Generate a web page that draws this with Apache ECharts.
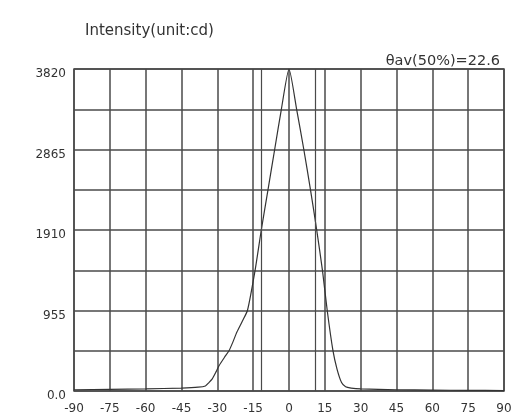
<!DOCTYPE html>
<html>
<head>
<meta charset="utf-8">
<script src="https://cdn.jsdelivr.net/npm/echarts@6/dist/echarts.min.js"></script>
<style>
  html, body { margin: 0; padding: 0; background: #fff; }
  #main { width: 525px; height: 415px; }
</style>
</head>
<body>
<div id="main"></div>
<script>
// angle (deg) and luminous intensity (cd)
const angles = [-90, -75, -60, -45, -38, -35, -33.5, -32.2, -30.5, -29.3, -27, -25.1, -23.5, -21.8, -19.5, -17.4, -14.2, -11.6, -8.8, -6.0, -3.2, 0,
  3.2, 6.2, 9.0, 11.6, 14.0, 16.0, 18.4, 20.1, 22.0, 23.7, 26, 30, 45, 60, 75, 90]
const intensity = [15, 20, 25, 35, 45, 60, 100, 140, 230, 300, 400, 478, 580, 700, 830, 955, 1432, 1910, 2387, 2865, 3342, 3820,
  3342, 2865, 2387, 1910, 1432, 955, 478, 260, 100, 50, 35, 25, 15, 10, 8, 5]
const halfAngles = [-11.5, 11.1]   // 50% beam angle edges
const xTicks = { min: -90, max: 90, step: 15 }
const yTicks = { max: 3820, step: 477.5, labelEvery: 955 }

const lineColor = '#4a4a4a'
const font = 'DejaVu Sans'

var myChart = echarts.init(document.getElementById('main'))

var option = {
  animation: false,
  backgroundColor: '#fff',
  title: [
    {
      text: 'Intensity(unit:cd)',
      left: 85, top: 24, padding: 0,
      textStyle: { fontSize: 15, fontWeight: 'normal', color: '#333', fontFamily: font }
    },
    {
      text: 'θav(50%)=22.6',
      right: 25, top: 54, padding: 0,
      textStyle: { fontSize: 14.5, fontWeight: 'normal', color: '#333', fontFamily: font }
    }
  ],
  grid: {
    left: 74, right: 21, top: 69, bottom: 23,
    show: true, borderColor: lineColor, borderWidth: 1.5
  },
  xAxis: {
    type: 'value',
    min: xTicks.min, max: xTicks.max, interval: xTicks.step,
    axisLine: { show: false },
    axisTick: { show: false },
    axisLabel: { color: '#333', fontSize: 12, margin: 12, fontFamily: font },
    splitLine: { show: true, lineStyle: { color: lineColor, width: 1.5 } }
  },
  yAxis: {
    type: 'value',
    min: 0, max: yTicks.max, interval: yTicks.step,
    axisLine: { show: false },
    axisTick: { show: false },
    axisLabel: {
      color: '#333', fontSize: 12, margin: 8, fontFamily: font,
      verticalAlign: 'top', lineHeight: 10,
      formatter: function (v) {
        if (v === 0) return '0.0'
        return v % yTicks.labelEvery === 0 ? String(v) : ''
      }
    },
    splitLine: { show: true, lineStyle: { color: lineColor, width: 1.5 } }
  },
  series: [
    {
      type: 'line',
      data: angles.map((a, i) => [a, intensity[i]]),
      smooth: 0.2,
      showSymbol: false,
      lineStyle: { color: '#333', width: 1.2 },
      markLine: {
        silent: true,
        symbol: 'none',
        label: { show: false },
        lineStyle: { color: lineColor, width: 1.2, type: 'solid' },
        data: halfAngles.map(a => ({ xAxis: a }))
      }
    }
  ]
}

myChart.setOption(option)
</script>
</body>
</html>
